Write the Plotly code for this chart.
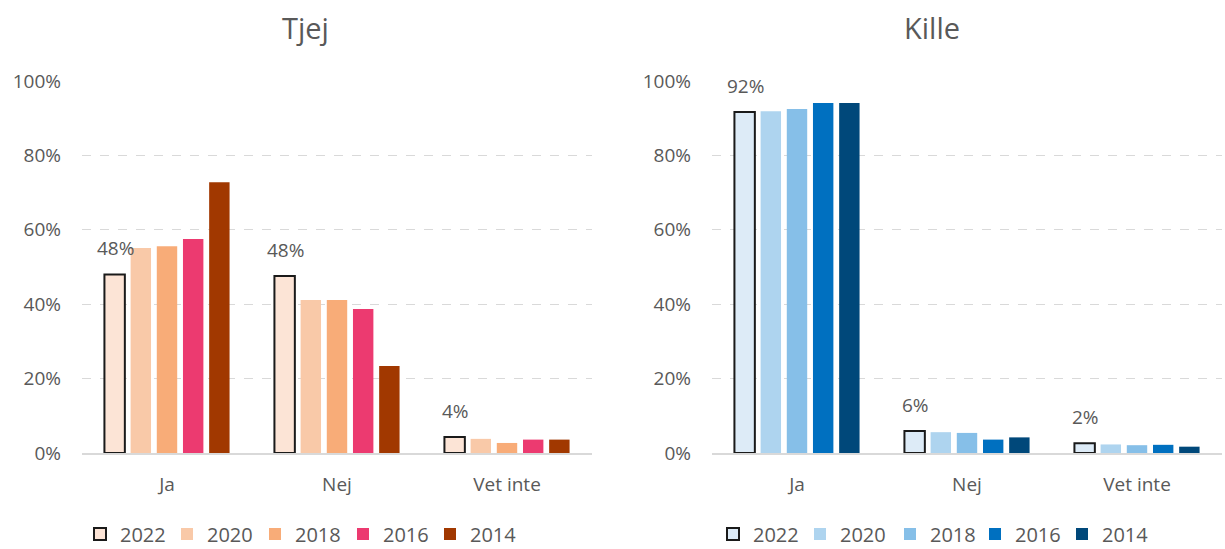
import plotly.graph_objects as go

categories = ["Ja", "Nej", "Vet inte"]
years = ["2022", "2020", "2018", "2016", "2014"]

tjej_2022 = [0.48, 0.476, 0.043]
tjej_2020 = [0.551, 0.411, 0.038]
tjej_2018 = [0.556, 0.411, 0.027]
tjej_2016 = [0.575, 0.387, 0.036]
tjej_2014 = [0.728, 0.234, 0.036]

kille_2022 = [0.917, 0.059, 0.026]
kille_2020 = [0.919, 0.056, 0.023]
kille_2018 = [0.925, 0.054, 0.021]
kille_2016 = [0.941, 0.036, 0.022]
kille_2014 = [0.941, 0.042, 0.017]

tjej_labels = ["48%", "48%", "4%"]
kille_labels = ["92%", "6%", "2%"]

tjej_colors = ["#FCE4D6", "#F9C9A8", "#F8AC78", "#EC3A70", "#A13800"]
kille_colors = ["#DDEBF7", "#AED4EF", "#86BFE8", "#0070C0", "#00487A"]

tjej_series = [tjej_2022, tjej_2020, tjej_2018, tjej_2016, tjej_2014]
kille_series = [kille_2022, kille_2020, kille_2018, kille_2016, kille_2014]

# legend text start positions (px)
tjej_legend_x = [120, 207, 295, 383, 470]
kille_legend_x = [753, 840, 930, 1015, 1102]

W, H = 1225, 549
FONT = "Open Sans"
GRAY = "#595959"

fig = go.Figure()
legend_layouts = {}
n = 0
for panel, (series, colors, lx, xa, ya) in enumerate([
    (tjej_series, tjej_colors, tjej_legend_x, "x", "y"),
    (kille_series, kille_colors, kille_legend_x, "x2", "y2"),
]):
    for i, (yr, vals, col) in enumerate(zip(years, series, colors)):
        n += 1
        lname = "legend" if n == 1 else f"legend{n}"
        fig.add_trace(go.Bar(
            x=categories, y=vals, name=yr, xaxis=xa, yaxis=ya,
            marker=dict(color=col, line=dict(color="#1a1a1a" if i == 0 else col,
                                             width=2 if i == 0 else 0)),
            legend=lname, hoverinfo="skip",
        ))
        legend_layouts[lname] = dict(
            x=(lx[i] - 40) / W, y=1 - 534 / H, xanchor="left", yanchor="middle",
            orientation="h", font=dict(family=FONT, size=20, color=GRAY),
            bgcolor="rgba(0,0,0,0)", itemclick=False, itemdoubleclick=False,
        )

annotations = []
for cat, v, lab in zip(categories, tjej_2022, tjej_labels):
    annotations.append(dict(x=cat, y=v, xref="x", yref="y", text=lab, showarrow=False,
                            xshift=-52, yshift=26, yanchor="middle",
                            font=dict(family=FONT, size=19, color=GRAY)))
for cat, v, lab in zip(categories, kille_2022, kille_labels):
    annotations.append(dict(x=cat, y=v, xref="x2", yref="y2", text=lab, showarrow=False,
                            xshift=-52, yshift=26, yanchor="middle",
                            font=dict(family=FONT, size=19, color=GRAY)))
annotations.append(dict(x=305 / W, y=1 - 28 / H, xref="paper", yref="paper", text="Tjej",
                        showarrow=False, xanchor="center", yanchor="middle",
                        font=dict(family=FONT, size=29, color=GRAY)))
annotations.append(dict(x=932 / W, y=1 - 28 / H, xref="paper", yref="paper", text="Kille",
                        showarrow=False, xanchor="center", yanchor="middle",
                        font=dict(family=FONT, size=29, color=GRAY)))

ydom = [(H - 453) / H, (H - 81) / H]
yaxis_common = dict(
    range=[0, 1], tickvals=[0, 0.2, 0.4, 0.6, 0.8, 1.0], tickformat=".0%",
    showgrid=True, gridcolor="#D9D9D9", griddash="dash", gridwidth=1,
    zeroline=False, showline=False, ticks="", ticklabelstandoff=20,
    tickfont=dict(family=FONT, size=19, color=GRAY), domain=ydom, fixedrange=True,
    automargin=False,
)
xaxis_common = dict(
    showgrid=False, showline=True, linecolor="#D9D9D9", linewidth=1.5, ticks="",
    tickfont=dict(family=FONT, size=19, color=GRAY), ticklabelstandoff=13, fixedrange=True,
    automargin=False,
)

fig.update_layout(
    width=W, height=H,
    margin=dict(l=0, r=0, t=0, b=0, autoexpand=False),
    paper_bgcolor="white", plot_bgcolor="white",
    barmode="group", bargap=0.23, bargroupgap=0.22,
    showlegend=True,
    xaxis=dict(domain=[82 / W, 592 / W], anchor="y", **xaxis_common),
    yaxis=dict(anchor="x", **yaxis_common),
    xaxis2=dict(domain=[712 / W, 1222 / W], anchor="y2", **xaxis_common),
    yaxis2=dict(anchor="x2", **yaxis_common),
    annotations=annotations,
    **legend_layouts,
)

fig.write_html("out.html", config={"displayModeBar": False},
               post_script="document.body.style.margin='0';document.body.style.padding='0';")
